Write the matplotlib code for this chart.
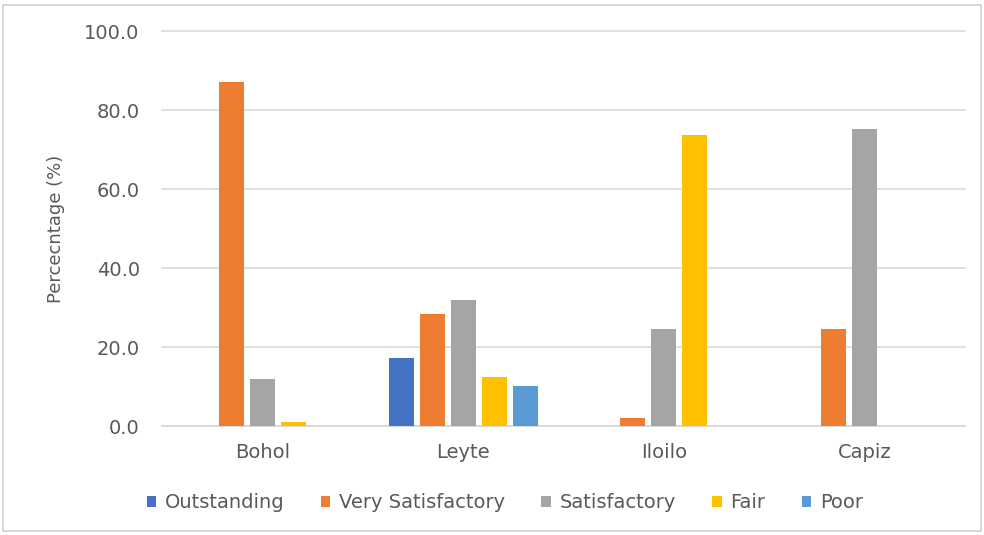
import matplotlib
matplotlib.use("Agg")
import matplotlib.pyplot as plt
import numpy as np
from matplotlib.patches import Rectangle

plt.rcParams['font.family'] = ['DejaVu Sans']

# data
provinces = ["Bohol", "Leyte", "Iloilo", "Capiz"]
ratings = ["Outstanding", "Very Satisfactory", "Satisfactory", "Fair", "Poor"]
outstanding = [0.0, 17.3, 0.0, 0.0]
very_satisfactory = [87.1, 28.3, 2.0, 24.5]
satisfactory = [11.9, 32.0, 24.5, 75.3]
fair = [1.1, 12.5, 73.6, 0.0]
poor = [0.0, 10.2, 0.0, 0.0]
yticks = [0, 20, 40, 60, 80, 100]

series = [outstanding, very_satisfactory, satisfactory, fair, poor]
colors = ["#4472C4", "#ED7D31", "#A5A5A5", "#FFC000", "#5B9BD5"]
txt = "#595959"

fig = plt.figure(figsize=(9.84, 5.35), dpi=100)
ax = fig.add_axes([0.1646, 0.2037, 0.8161, 0.7383])

x = np.arange(len(provinces))
step = 0.1545
width = 0.125
for i, (vals, name, c) in enumerate(zip(series, ratings, colors)):
    ax.bar(x + (i - 2) * step, vals, width, color=c, label=name, zorder=3)

ax.set_xlim(-0.5, len(provinces) - 0.5)
ax.set_ylim(0, 100)
ax.set_yticks(yticks)
ax.set_yticklabels([f"{v:.1f}" for v in yticks])
ax.set_xticks(x)
ax.set_xticklabels(provinces)
ax.tick_params(axis='both', length=0, labelsize=14, colors=txt)
ax.tick_params(axis='y', pad=16)
ax.tick_params(axis='x', pad=12)
ax.yaxis.grid(True, color="#D9D9D9", linewidth=1.2, zorder=0)
for gl in ax.get_ygridlines():
    gl.set_clip_on(False)  # keep the 100.0 line visible at the top edge
for s in ['top', 'right', 'left']:
    ax.spines[s].set_visible(False)
ax.spines['bottom'].set_color("#D9D9D9")
ax.spines['bottom'].set_linewidth(1.2)
ax.set_ylabel("Percecntage (%)", fontsize=13, color=txt, labelpad=14)

leg = ax.legend(loc='center', bbox_to_anchor=(0.513, 0.06), bbox_transform=fig.transFigure,
                ncol=5, frameon=False, fontsize=14, handlelength=0.5, handleheight=0.5,
                handletextpad=0.45, columnspacing=1.85)
for t in leg.get_texts():
    t.set_color(txt)

fig.patches.append(Rectangle((0.003, 0.008), 0.994, 0.982, transform=fig.transFigure,
                             fill=False, edgecolor="#D0D0D0", linewidth=1.2))

fig.savefig("out.png", dpi=100)
